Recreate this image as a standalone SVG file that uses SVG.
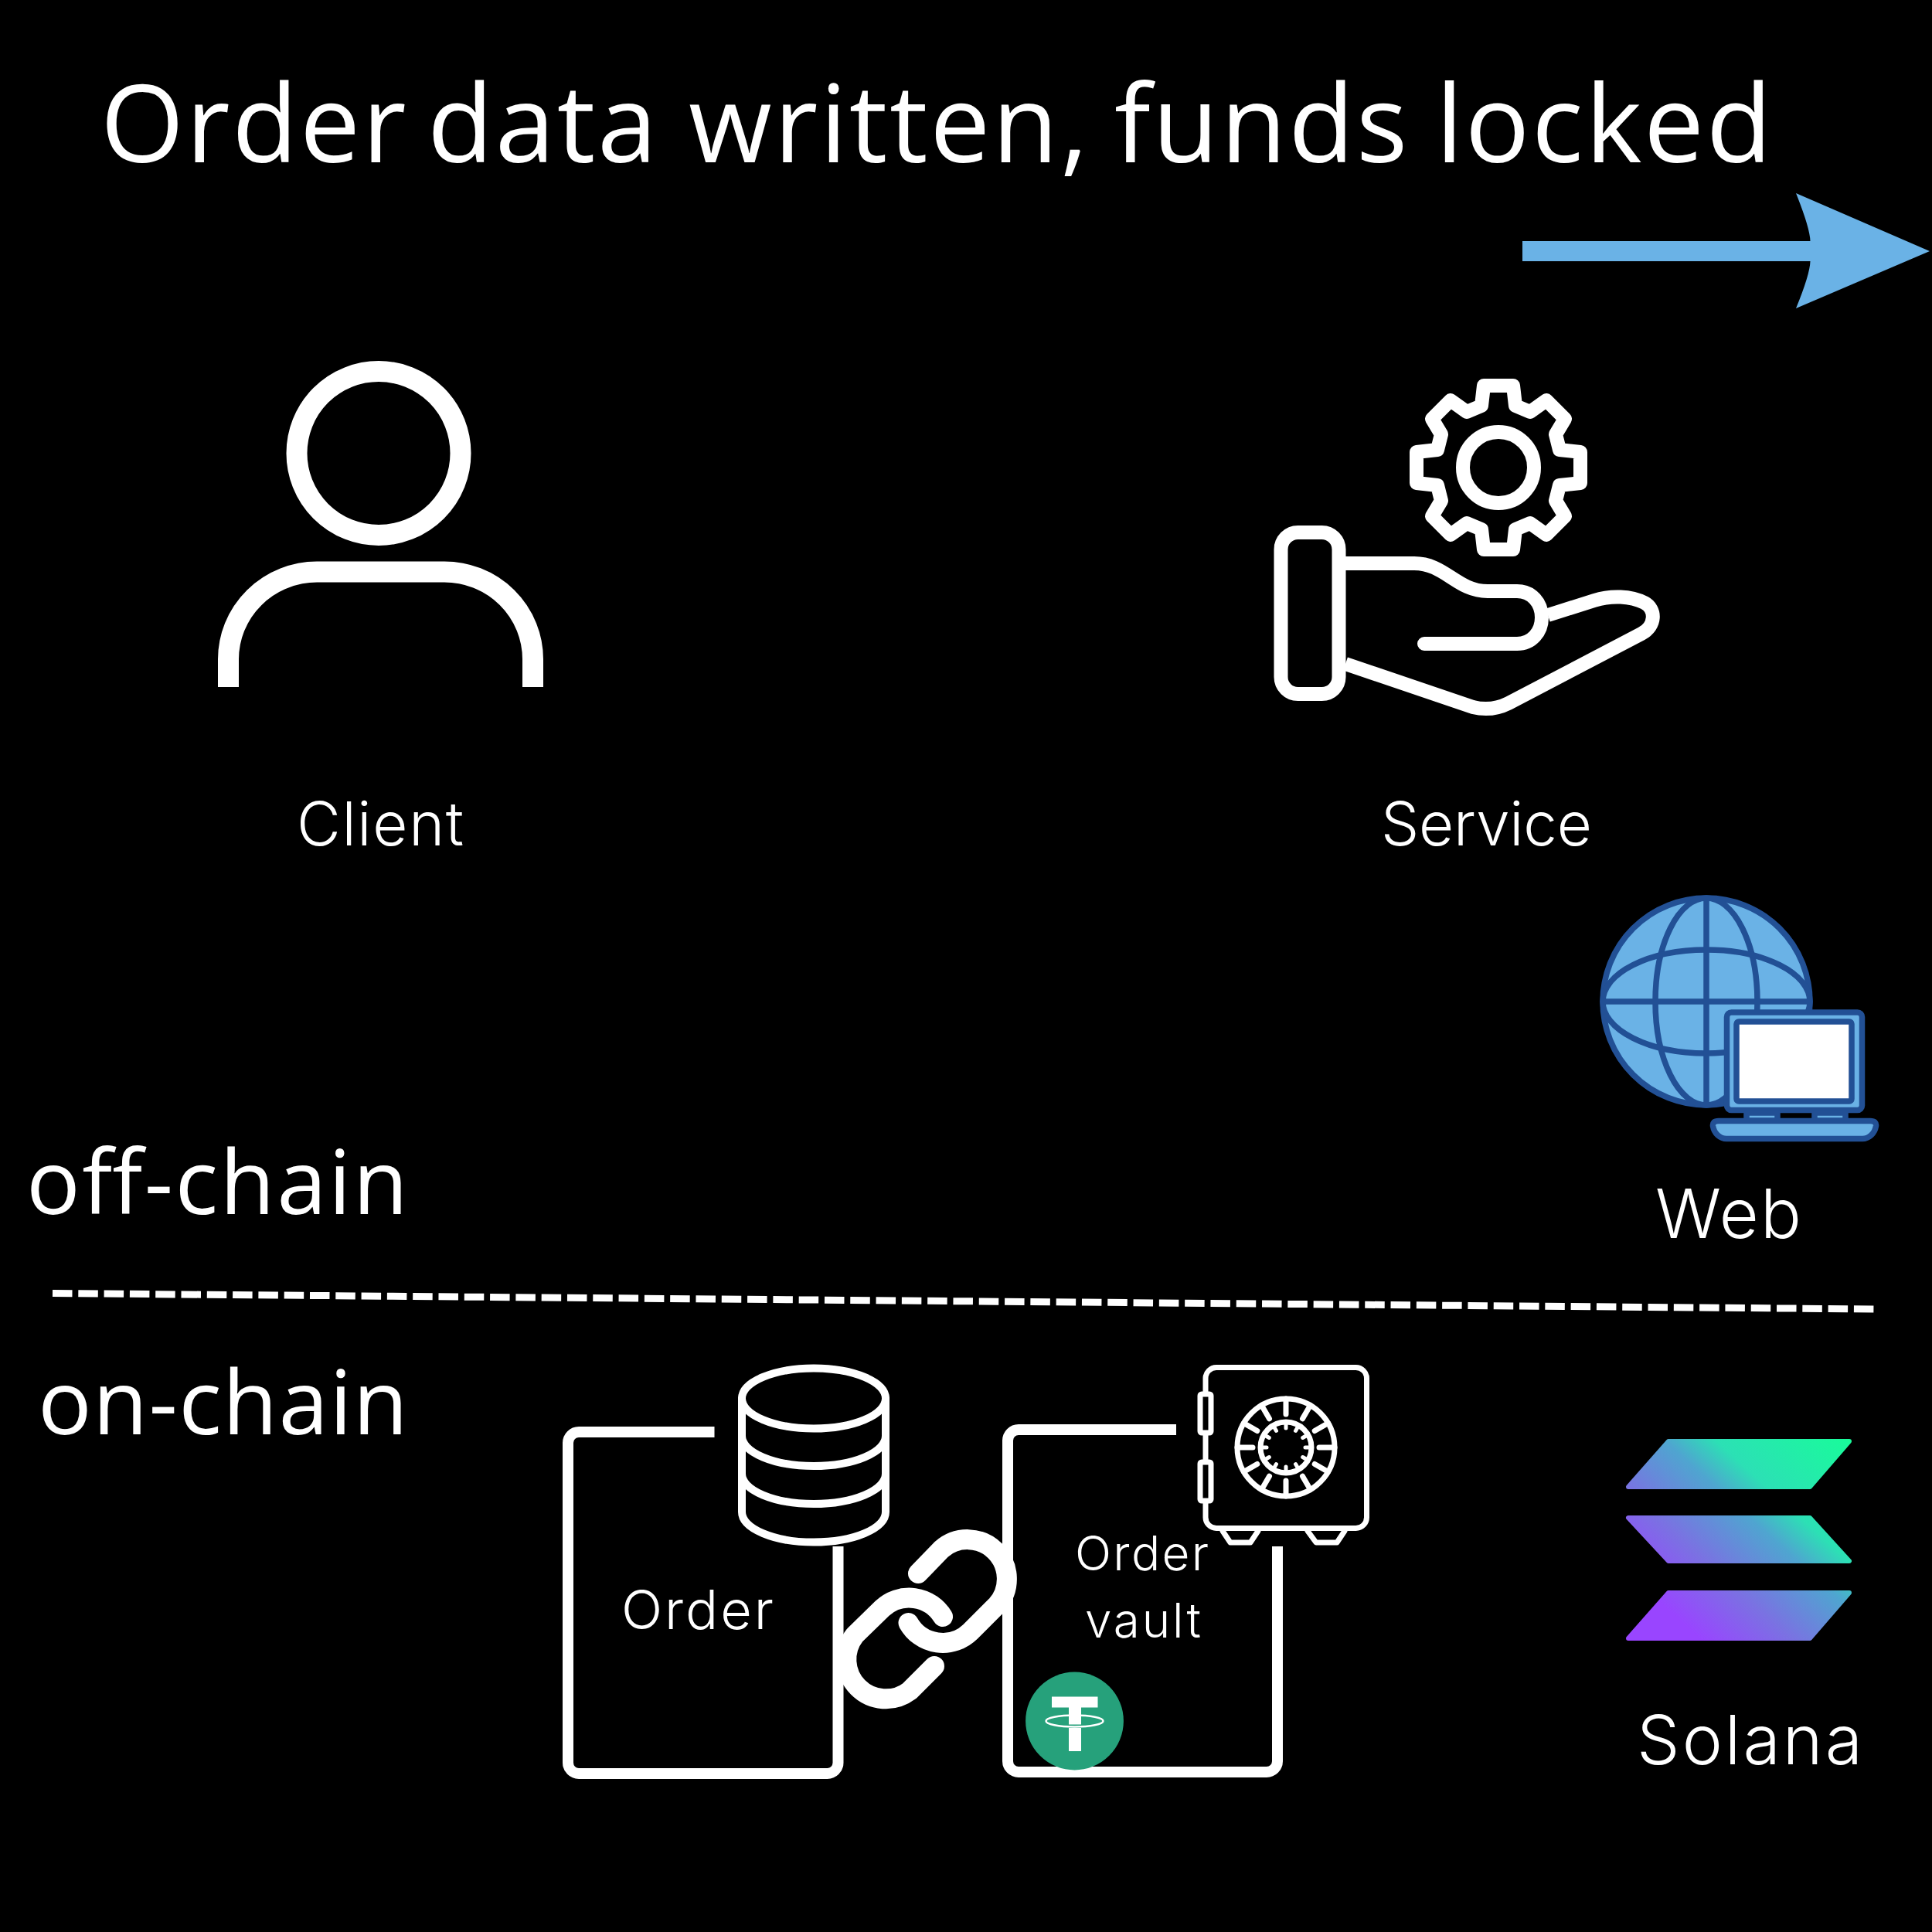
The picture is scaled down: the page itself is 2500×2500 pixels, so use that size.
<svg xmlns="http://www.w3.org/2000/svg" width="2500" height="2500" viewBox="0 0 2500 2500">
<style>
text{font-family:Inter,"Open Sans","Liberation Sans",sans-serif;fill:#fff;font-weight:300}
text.c{font-family:"Open Sans","Noto Sans","Liberation Sans",sans-serif;font-weight:400}
.w{fill:none;stroke:#fff;stroke-linecap:round;stroke-linejoin:round}
.b{stroke:#225095;stroke-width:7.5;fill:#6ab2e6;stroke-linejoin:round}
.n{fill:none}
</style>
<defs>
<linearGradient id="sol" gradientUnits="userSpaceOnUse" x1="2132" y1="2147" x2="2390" y2="1862"><stop offset="0.17" stop-color="#9945ff"/><stop offset="0.377" stop-color="#7a72e2"/><stop offset="0.584" stop-color="#4fa5d0"/><stop offset="0.7" stop-color="#2ce0b5"/><stop offset="1" stop-color="#19fb9b"/></linearGradient>
</defs>
<rect width="2500" height="2500" fill="#000"/>
<text id="title" class="c" y="210" font-size="139" letter-spacing="2.700"><tspan x="130">Order </tspan><tspan x="553">data </tspan><tspan x="891">written, </tspan><tspan x="1442">funds </tspan><tspan x="1858">locked</tspan></text>
<g id="connectors">
<path id="flow-arrow" fill="#6ab2e6" d="M2324 250L2497 325L2324 399Q2342 355 2342.500 338H1970V312H2342.500Q2342 295 2324 250Z"/>
<path id="divider" d="M68 1673.500L2426 1694" stroke="#fff" stroke-width="9" stroke-dasharray="25.500 7.800" fill="none"/>
</g>
<g id="client">
<circle cx="490" cy="586.500" r="106" class="w" stroke-width="27"/>
<path d="M295.500 889V853A115 113 0 0 1 410 740H575A114.500 113 0 0 1 689.500 853V889" class="w" style="stroke-linecap:butt" stroke-width="27"/>
<text x="384" y="1093.500" font-size="78" textLength="216">Client</text>
</g>
<g id="service">
<path transform="translate(1939 605)" class="w" stroke-width="18" d="M19-106L22-80L41-72L62-87L86-63L74-43L79-23L106-20V20L79 23L74 43L86 63L62 87L41 72L22 80L19 106H-19L-22 80L-41 72L-62 87L-86 63L-74 43L-79 23L-106 20V-20L-79-23L-74-43L-86-63L-62-87L-41-72L-22-80L-19-106Z"/>
<circle cx="1939" cy="605" r="46" class="w" stroke-width="18"/>
<rect x="1657.500" y="689" width="75" height="209" rx="22" class="w" stroke-width="18"/>
<path class="w" stroke-width="18" d="M1741 729H1830C1870 729 1885 765 1925 765H1963C1982 765 1995 780 1995 799C1995 818 1982 833 1963 833H1843"/>
<path class="w" stroke-width="18" style="stroke-linecap:butt" d="M2003 796L2063 777C2085 770 2110 771 2128 780C2143 788 2143 810 2124 820L1952 910C1938 917 1922 919 1906 915L1741 859"/>
<text x="1787" y="1093.500" font-size="78" textLength="273">Service</text>
</g>
<g id="web">
<circle cx="2208" cy="1296" r="134" class="b"/>
<ellipse cx="2208" cy="1296" rx="66" ry="134" class="b n"/>
<ellipse cx="2208" cy="1296" rx="134" ry="67" class="b n"/>
<path d="M2208 1162V1430M2074 1296H2342" class="b n"/>
<rect x="2234.500" y="1310" width="175" height="126.500" rx="6" class="b"/>
<rect x="2247" y="1322" width="149" height="103" rx="3" fill="#fff" stroke="#225095" stroke-width="7.500"/>
<rect x="2260" y="1440" width="40" height="10" class="b"/>
<rect x="2348" y="1440" width="40" height="10" class="b"/>
<path d="M2224 1450.500H2420C2426 1450.500 2428 1453 2427.500 1457C2426 1467 2418 1473.500 2410 1473.500H2234C2226 1473.500 2218 1467 2216.500 1457C2216 1453 2218 1450.500 2224 1450.500Z" class="b"/>
<text x="2142" y="1602" font-size="88" textLength="189">Web</text>
</g>
<text id="off-chain" class="c" x="34" y="1570.500" font-size="116" textLength="494">off-chain</text>
<text id="on-chain" class="c" x="49" y="1856" font-size="116" textLength="479">on-chain</text>
<g id="order">
<path class="w" style="stroke-linecap:butt" stroke-width="14" d="M924.500 1853H749A14 14 0 0 0 735 1867V2281A14 14 0 0 0 749 2295H1070.500A14 14 0 0 0 1084.500 2281V2001"/>
<g class="w" stroke-width="10">
<ellipse cx="1053" cy="1809.500" rx="93" ry="39"/>
<path d="M960 1809.500V1956.600A93 39 0 0 0 1146 1956.600V1809.500M960 1858A93 39 0 0 0 1146 1858M960 1907A93 39 0 0 0 1146 1907"/>
</g>
<text x="804" y="2108" font-size="70" textLength="197">Order</text>
</g>
<g id="vault">
<path class="w" style="stroke-linecap:butt" stroke-width="14" d="M1522 1850H1318A14 14 0 0 0 1304 1864V2279A14 14 0 0 0 1318 2293H1639A14 14 0 0 0 1653 2279V2001"/>
<g class="w" stroke-width="7">
<rect x="1560" y="1769.500" width="208.500" height="208" rx="14"/>
<rect x="1553" y="1804" width="14" height="50" rx="2" fill="#000"/>
<rect x="1553" y="1892" width="14" height="50" rx="2" fill="#000"/>
<circle cx="1664" cy="1873" r="63"/>
<circle cx="1664" cy="1873" r="33"/>
<path d="M1582 1981L1592 1996H1618L1628 1981M1692 1981L1703 1996H1730L1740 1981"/>
<path id="dial-ticks" d="M1664 1810V1830M1695.500 1818.400L1685.500 1835.800M1718.600 1841.500L1701.200 1851.500M1727 1873H1707M1718.600 1904.500L1701.200 1894.500M1695.500 1927.600L1685.500 1910.200M1664 1936V1916M1632.500 1927.600L1642.500 1910.200M1609.400 1904.500L1626.800 1894.500M1601 1873H1621M1609.400 1841.500L1626.800 1851.500M1632.500 1818.400L1642.500 1835.800" />
<path stroke-width="5" d="M1664 1840V1848M1680.500 1844.400L1676.500 1851.400M1692.600 1856.500L1685.700 1860.500M1697 1873H1689M1692.600 1889.500L1685.700 1885.500M1680.500 1901.600L1676.500 1894.600M1664 1906V1898M1647.500 1901.600L1651.500 1894.600M1635.400 1889.500L1642.300 1885.500M1631 1873H1639M1635.400 1856.500L1642.300 1860.500M1647.500 1844.400L1651.500 1851.400"/>
</g>
<text x="1391" y="2032" font-size="62" textLength="173">Order</text>
<text x="1404" y="2119" font-size="62" textLength="150">vault</text>
</g>
<g id="chain" class="w" stroke-width="26">
<path d="M1188 2036L1218 2005A51 51 0 0 1 1290 2077L1255.500 2111.500A51 51 0 0 1 1175.500 2100"/>
<path d="M1220 2092A51 51 0 0 0 1141.600 2081.300L1106 2116A51 51 0 0 0 1177 2188L1209 2156"/>
</g>
<g id="tether">
<circle cx="1390.500" cy="2227" r="63.400" fill="#26a17b"/>
<path fill="#fff" d="M1361 2195.500H1420.500V2209.500H1399V2231.500H1383V2209.500H1361ZM1383 2236H1399V2266H1383Z"/>
<ellipse cx="1390.500" cy="2227" rx="37" ry="7.500" fill="none" stroke="#fff" stroke-width="2.500"/>
</g>
<g id="solana">
<path fill="url(#sol)" stroke="url(#sol)" stroke-width="6" stroke-linejoin="round" d="M2159 1865H2393L2342 1924H2107ZM2107 1964H2342L2393 2020H2159ZM2159 2061H2393L2342 2120H2107Z"/>
<text x="2118" y="2283" font-size="88" textLength="292">Solana</text>
</g>
</svg>
